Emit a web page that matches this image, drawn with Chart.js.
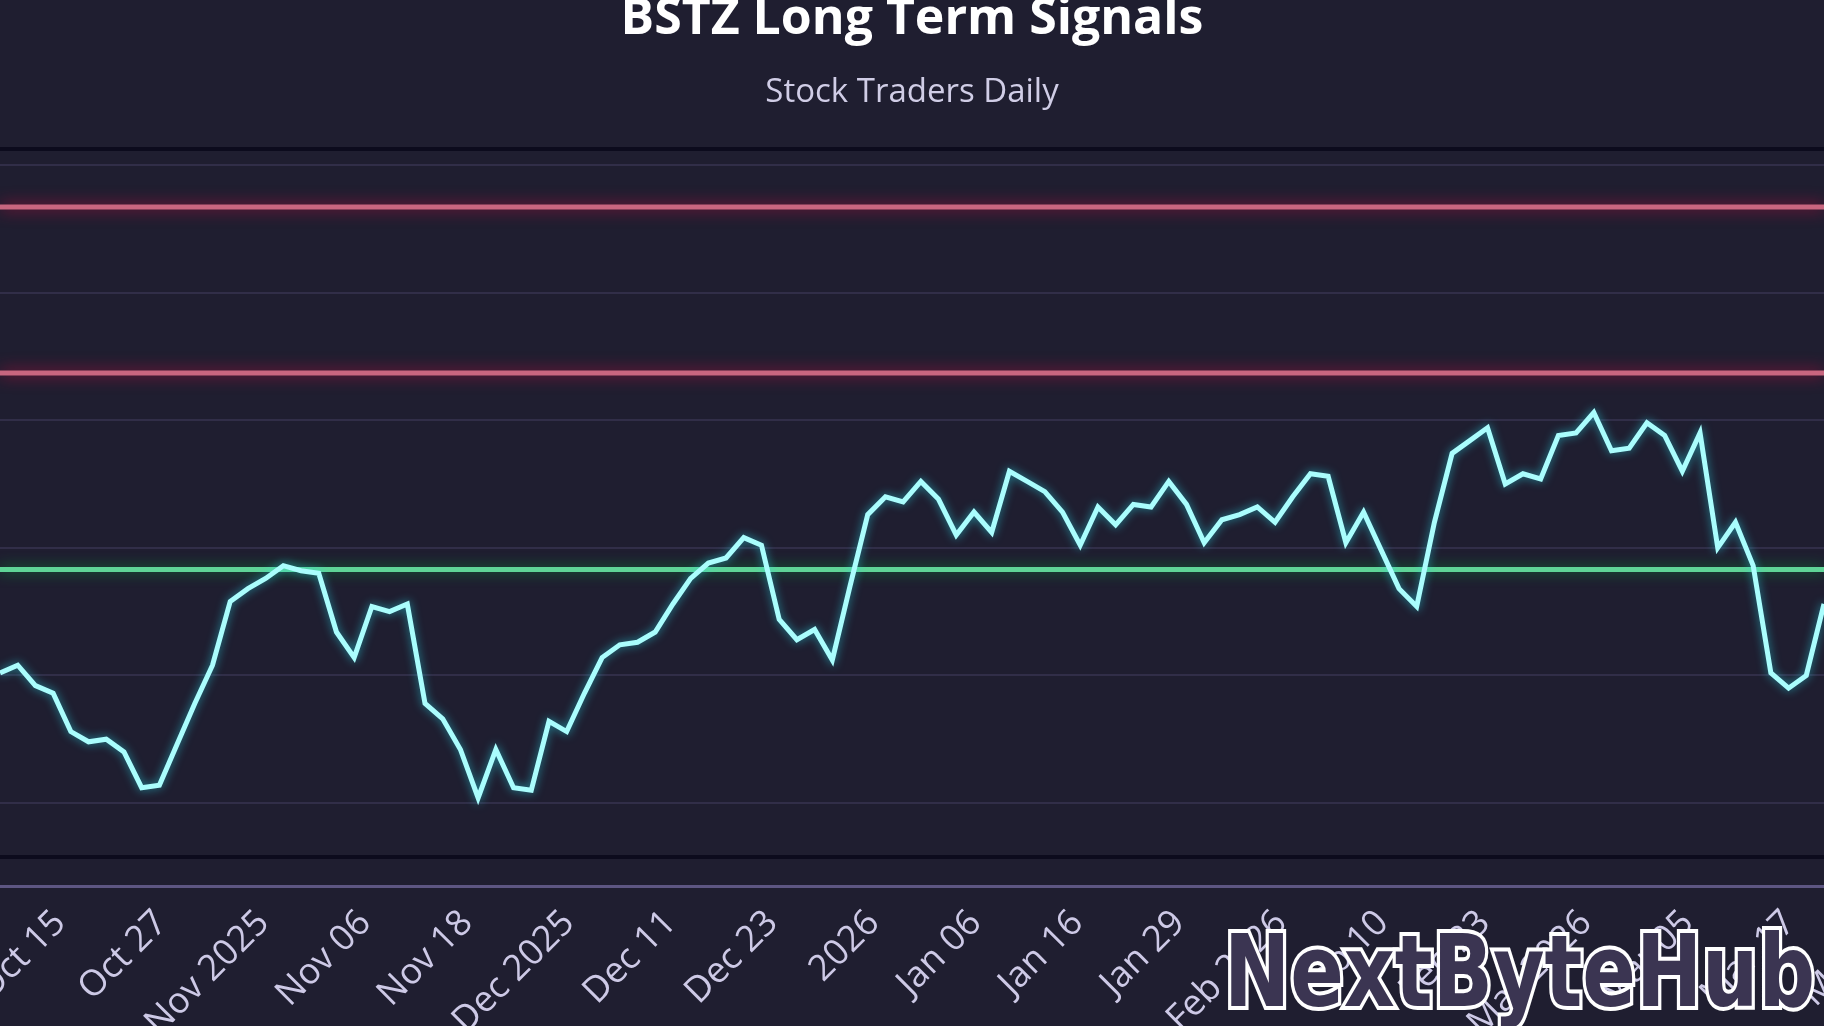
<!DOCTYPE html>
<html>
<head>
<meta charset="utf-8">
<script src="https://cdn.jsdelivr.net/npm/chart.js@4.4.1/dist/chart.umd.min.js"></script>
<style>
html,body{margin:0;padding:0;width:1824px;height:1026px;overflow:hidden;background:#1f1e30;}
#wrap{position:absolute;left:0;top:-20px;width:1824px;height:1066px;}
.wm{position:absolute;left:1224px;top:922px;font-family:"DejaVu Sans",sans-serif;font-weight:bold;font-size:100px;line-height:1;white-space:nowrap;transform-origin:0 0;}
#wmBack{color:#ffffff;-webkit-text-stroke:8px #ffffff;}
#wmFront{color:#3b3552;}
</style>
</head>
<body>
<div id="wrap"><canvas id="c"></canvas></div>
<div class="wm" id="wmBack">NextByteHub</div>
<div class="wm" id="wmFront">NextByteHub</div>
<script>
const titleText = "BSTZ Long Term Signals";
const subtitleText = "Stock Traders Daily";

// closing prices (one per trading day)
const price = [
  20.01, 20.04, 19.96, 19.93, 19.78, 19.74, 19.75, 19.70, 19.56, 19.57,
  19.73, 19.89, 20.04, 20.29, 20.34, 20.38, 20.43, 20.41, 20.40, 20.17,
  20.07, 20.27, 20.25, 20.28, 19.89, 19.83, 19.71, 19.52, 19.71, 19.56,
  19.55, 19.82, 19.78, 19.93, 20.07, 20.12, 20.13, 20.17, 20.28, 20.38,
  20.44, 20.46, 20.54, 20.51, 20.22, 20.14, 20.18, 20.06, 20.35, 20.63,
  20.70, 20.68, 20.76, 20.69, 20.55, 20.64, 20.56, 20.80, 20.76, 20.72,
  20.64, 20.51, 20.66, 20.59, 20.67, 20.66, 20.76, 20.67, 20.52, 20.61,
  20.63, 20.66, 20.60, 20.70, 20.79, 20.78, 20.52, 20.64, 20.49, 20.34,
  20.27, 20.60, 20.87, 20.92, 20.97, 20.75, 20.79, 20.77, 20.94, 20.95,
  21.03, 20.88, 20.89, 20.99, 20.94, 20.80, 20.95, 20.50, 20.60, 20.43,
  20.01, 19.95, 20.00, 20.28
];

// signal levels
const resistanceUpper = 21.835;
const resistanceLower = 21.185;
const supportLevel = 20.415;

// y grid values
const yGridValues = [19.5, 20, 20.5, 21, 21.5, 22];
const yFrameValues = [19.289, 22.064];
const yMin = 19.175;
const yMax = 22.064;

// x tick positions (in trading-day index units) and their labels
const xTickPositions = [3.39, 9.13, 14.88, 20.63, 26.37, 32.12, 37.86, 43.61, 49.35, 55.10,
  60.85, 66.59, 72.34, 78.08, 83.83, 89.57, 95.32, 101.07, 106.81];
const xTickLabels = ["Oct 15", "Oct 27", "Nov 2025", "Nov 06", "Nov 18", "Dec 2025", "Dec 11", "Dec 23", "2026", "Jan 06",
  "Jan 16", "Jan 29", "Feb 2026", "Feb 10", "Feb 23", "Mar 2026", "Mar 05", "Mar 17", "Mar 27"];

const lastIndex = price.length - 1;
const levelLine = (v) => [{x: 0, y: v}, {x: lastIndex, y: v}];

const glowPlugin = {
  id: 'glow',
  beforeDatasetDraw(chart, args) {
    const ds = chart.data.datasets[args.index];
    const c = chart.ctx;
    c.save();
    if (ds.glowColor) { c.shadowColor = ds.glowColor; c.shadowBlur = ds.glowBlur; }
  },
  afterDatasetDraw(chart) { chart.ctx.restore(); }
};

new Chart(document.getElementById('c'), {
  type: 'line',
  data: {
    datasets: [
      {label: 'BSTZ', data: price.map((v, i) => ({x: i, y: v})), borderColor: '#aafdfd', borderWidth: 5,
       pointRadius: 0, tension: 0, glowColor: 'rgba(40,225,240,0.6)', glowBlur: 10},
      {label: 'Support', data: levelLine(supportLevel), borderColor: '#5fd497', borderWidth: 5,
       pointRadius: 0, glowColor: 'rgba(15,120,55,1)', glowBlur: 14},
      {label: 'Resistance 2', data: levelLine(resistanceLower), borderColor: '#c8667f', borderWidth: 5,
       pointRadius: 0, glowColor: 'rgba(175,15,60,1)', glowBlur: 16},
      {label: 'Resistance 1', data: levelLine(resistanceUpper), borderColor: '#c8667f', borderWidth: 5,
       pointRadius: 0, glowColor: 'rgba(175,15,60,1)', glowBlur: 16}
    ]
  },
  plugins: [glowPlugin],
  options: {
    responsive: true,
    maintainAspectRatio: false,
    animation: false,
    layout: {padding: 0},
    plugins: {
      legend: {display: false},
      tooltip: {enabled: false},
      title: {display: true, text: titleText, color: '#ffffff',
        font: {family: 'Open Sans', size: 50, weight: 'bold', lineHeight: 1.2}, padding: {top: 10, bottom: 4}},
      subtitle: {display: true, text: subtitleText, color: '#d0cde6',
        font: {family: 'Open Sans', size: 33, lineHeight: 1.2}, padding: {top: 19, bottom: 36}}
    },
    scales: {
      x: {
        type: 'linear', min: 0, max: lastIndex,
        grid: {display: false},
        border: {display: true, color: '#5d5682', width: 3},
        afterBuildTicks(s) { s.ticks = xTickPositions.map(v => ({value: v})); },
        afterFit(s) { s.paddingLeft = 0; s.paddingRight = 0; s.height = 160; },
        ticks: {autoSkip: false, maxRotation: 45, minRotation: 45, color: '#cdc9e6', padding: 8,
          font: {family: 'Open Sans', size: 36},
          callback: (v, i) => xTickLabels[i]}
      },
      y: {
        min: yMin, max: yMax,
        afterBuildTicks(s) { s.ticks = yGridValues.concat(yFrameValues).map(v => ({value: v})); },
        afterFit(s) { s.width = 0; s.paddingTop = 0; s.paddingBottom = 0; },
        ticks: {display: false},
        border: {display: false},
        grid: {
          drawTicks: false,
          color: (c) => yFrameValues.includes(c.tick.value) ? '#0c0b1d' : 'rgba(115,105,160,0.22)',
          lineWidth: (c) => yFrameValues.includes(c.tick.value) ? 4 : 2
        }
      }
    }
  }
});

// fit watermark width
const targetW = 591;
['wmBack', 'wmFront'].forEach(id => {
  const el = document.getElementById(id);
  const w = el.getBoundingClientRect().width;
  el.style.transform = 'scale(' + (targetW / w) + ',1)';
});
</script>
</body>
</html>
